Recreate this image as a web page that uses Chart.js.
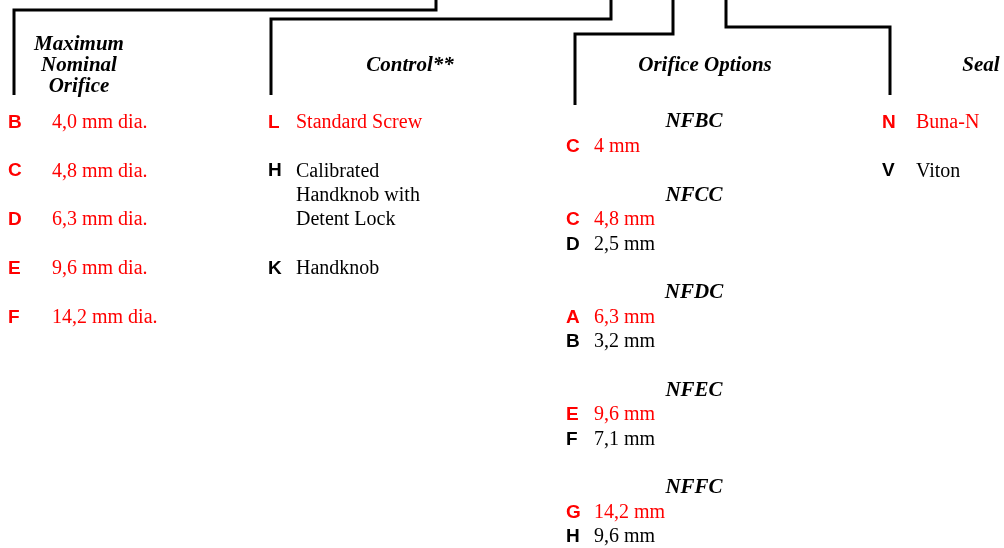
<!DOCTYPE html>
<html>
<head>
<meta charset="utf-8">
<script src="https://cdn.jsdelivr.net/npm/chart.js@4/dist/chart.umd.min.js"></script>
<style>
  html, body { margin: 0; padding: 0; background: #fff; }
  #wrap { width: 1004px; height: 548px; position: relative; }
</style>
</head>
<body>
<div id="wrap"><canvas id="codeChart"></canvas></div>
<script>
// ---- content of the ordering code ----
const headings = [["Maximum", "Nominal", "Orifice"], ["Control**"], ["Orifice Options"], ["Seal"]];

const sizeCodes = ["B", "C", "D", "E", "F"];
const sizeLabels = [["4,0 mm dia."], ["4,8 mm dia."], ["6,3 mm dia."], ["9,6 mm dia."], ["14,2 mm dia."]];
const sizeSelected = [true, true, true, true, true];

const controlCodes = ["L", "H", "K"];
const controlLabels = [["Standard Screw"], ["Calibrated", "Handknob with", "Detent Lock"], ["Handknob"]];
const controlSelected = [true, false, false];

const orificeGroups = ["NFBC", "NFCC", "NFDC", "NFEC", "NFFC"];
const orificeCodes = [["C"], ["C", "D"], ["A", "B"], ["E", "F"], ["G", "H"]];
const orificeLabels = [["4 mm"], ["4,8 mm", "2,5 mm"], ["6,3 mm", "3,2 mm"], ["9,6 mm", "7,1 mm"], ["14,2 mm", "9,6 mm"]];
const orificeSelected = [[true], [true, false], [true, false], [true, false], [true, false]];

const sealCodes = ["N", "V"];
const sealLabels = [["Buna-N"], ["Viton"]];
const sealSelected = [true, false];

// ---- layout (page units, y downward) ----
const RED = "#ff0000";
const BLACK = "#000000";
const LINE = 24.4;      // line step inside an entry
const GAP = 48.75;      // step from an entry to the next one
const TOP = 122.5;      // first entry row
const codeFont = "bold 19px 'Liberation Sans', Arial, sans-serif";
const textFont = "20px 'Liberation Serif', 'Times New Roman', serif";
const headFont = "bold italic 21px 'Liberation Serif', 'Times New Roman', serif";

const headingPos = [{ x: 79, y: 45, step: 21 }, { x: 410, y: 66 }, { x: 705, y: 66 }, { x: 981, y: 66 }];
const columns = [
  { codes: sizeCodes, labels: sizeLabels, sel: sizeSelected, codeX: 8, textX: 52 },
  { codes: controlCodes, labels: controlLabels, sel: controlSelected, codeX: 268, textX: 296 },
  { codes: sealCodes, labels: sealLabels, sel: sealSelected, codeX: 882, textX: 916 }
];
const orificeCol = { codeX: 566, textX: 594, headX: 694 };

// connector brackets from the code string down to each heading
const brackets = [
  [{ x: 14, y: 95 }, { x: 14, y: 10 }, { x: 436, y: 10 }, { x: 436, y: -2 }],
  [{ x: 271, y: 95 }, { x: 271, y: 19 }, { x: 611, y: 19 }, { x: 611, y: -2 }],
  [{ x: 575, y: 105 }, { x: 575, y: 34 }, { x: 673, y: 34 }, { x: 673, y: -2 }],
  [{ x: 890, y: 95 }, { x: 890, y: 27 }, { x: 726, y: 27 }, { x: 726, y: -2 }]
];

const textPlugin = {
  id: "codeText",
  afterDraw(chart) {
    const { ctx, scales: { x, y } } = chart;
    const put = (str, px, py, font, color, align) => {
      ctx.font = font;
      ctx.fillStyle = color;
      ctx.textAlign = align || "left";
      ctx.textBaseline = "middle";
      ctx.fillText(str, x.getPixelForValue(px), y.getPixelForValue(py));
    };
    ctx.save();
    // headings
    headings.forEach((lines, i) => {
      const p = headingPos[i];
      lines.forEach((ln, k) => put(ln, p.x, p.y + k * (p.step || 0), headFont, BLACK, "center"));
    });
    // simple columns
    columns.forEach(col => {
      let yy = TOP;
      col.codes.forEach((c, i) => {
        const color = col.sel[i] ? RED : BLACK;
        put(c, col.codeX, yy, codeFont, color);
        col.labels[i].forEach((ln, k) => put(ln, col.textX, yy + k * LINE, textFont, color));
        yy += (col.labels[i].length - 1) * LINE + GAP;
      });
    });
    // orifice options, grouped by body
    let yy = TOP;
    orificeGroups.forEach((g, gi) => {
      put(g, orificeCol.headX, yy - 0.5, headFont, BLACK, "center");
      orificeCodes[gi].forEach((c, i) => {
        yy += LINE;
        const color = orificeSelected[gi][i] ? RED : BLACK;
        put(c, orificeCol.codeX, yy, codeFont, color);
        put(orificeLabels[gi][i], orificeCol.textX, yy, textFont, color);
      });
      yy += GAP;
    });
    ctx.restore();
  }
};

new Chart(document.getElementById("codeChart"), {
  type: "scatter",
  data: {
    datasets: brackets.map(b => ({
      data: b,
      showLine: true,
      borderColor: BLACK,
      borderWidth: 3,
      borderJoinStyle: "miter",
      pointRadius: 0,
      tension: 0,
      clip: false
    }))
  },
  options: {
    responsive: true,
    maintainAspectRatio: false,
    animation: false,
    layout: { padding: 0 },
    scales: {
      x: { type: "linear", min: 0, max: 1004, display: false },
      y: { type: "linear", min: 0, max: 548, reverse: true, display: false }
    },
    plugins: { legend: { display: false }, tooltip: { enabled: false } },
    events: []
  },
  plugins: [textPlugin]
});
</script>
</body>
</html>
